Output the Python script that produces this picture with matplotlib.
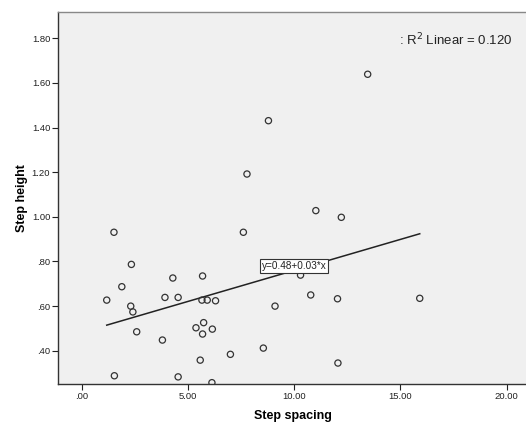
import numpy as np
import matplotlib.pyplot as plt
from matplotlib.ticker import FuncFormatter

plt.rcParams['font.family'] = ['Liberation Sans', 'DejaVu Sans']

# Step spacing / step height values
step_spacing = [1.18, 1.52, 1.54, 1.89, 2.34, 2.31, 2.41, 2.59, 3.80, 3.92,
                4.29, 4.54, 4.54, 5.38, 5.58, 5.69, 5.66, 5.91, 5.74, 5.69,
                6.15, 6.30, 6.13, 7.00, 7.61, 8.55, 9.10, 10.30, 10.78, 12.04,
                11.02, 12.22, 12.06, 15.91, 7.78, 8.79, 13.46]
step_height = [0.627, 0.931, 0.288, 0.687, 0.787, 0.600, 0.574, 0.485, 0.448, 0.639,
               0.726, 0.639, 0.283, 0.503, 0.358, 0.735, 0.627, 0.627, 0.526, 0.475,
               0.497, 0.624, 0.257, 0.384, 0.931, 0.412, 0.600, 0.739, 0.650, 0.633,
               1.028, 0.998, 0.345, 0.635, 1.192, 1.431, 1.639]

# Fit line shown in the chart (y = 0.48 + 0.03*x)
intercept = 0.482
slope = 0.0278
r2_text = ': R$^2$ Linear = 0.120'
eq_text = 'y=0.48+0.03*x'

x = np.array(step_spacing)
y = np.array(step_height)

fig = plt.figure(figsize=(5.26, 4.24), dpi=100)
ax = fig.add_axes([0.110, 0.0943, 0.892, 0.8774])
ax.set_facecolor('#f0f0f0')

ax.scatter(x, y, s=20, facecolors='none', edgecolors='#333333', linewidths=0.9, zorder=3)

xf = np.array([x.min(), x.max()])
ax.plot(xf, intercept + slope * xf, color='#222222', lw=1.1, zorder=2)

ax.text(9.99, 0.782, eq_text, fontsize=7.2, ha='center', va='center', color='#222222',
        bbox=dict(boxstyle='square,pad=0.2', fc='white', ec='#333333', lw=0.8), zorder=4)
ax.text(20.3, 1.793, r2_text, fontsize=9.5, ha='right', va='center', color='#222222')

ax.set_xlim(-1.12, 20.96)
ax.set_ylim(0.251, 1.918)
ax.set_xticks([0, 5, 10, 15, 20])
ax.set_yticks([0.4, 0.6, 0.8, 1.0, 1.2, 1.4, 1.6, 1.8])
fmt = FuncFormatter(lambda v, p: ('%.2f' % v).lstrip('0') if abs(v) < 1 else '%.2f' % v)
ax.xaxis.set_major_formatter(fmt)
ax.yaxis.set_major_formatter(fmt)
ax.tick_params(axis='both', labelsize=6.8, colors='#222222', length=4.5, width=0.8, pad=1)

for side in ['left', 'bottom']:
    ax.spines[side].set_color('#333333')
    ax.spines[side].set_linewidth(1.0)
ax.spines['top'].set_color('#888888')
ax.spines['top'].set_linewidth(1.0)
ax.spines['right'].set_visible(False)

ax.set_xlabel('Step spacing', fontsize=9, fontweight='bold', labelpad=7)
ax.set_ylabel('Step height', fontsize=9, fontweight='bold', labelpad=3)

fig.savefig('out.png', dpi=100)
